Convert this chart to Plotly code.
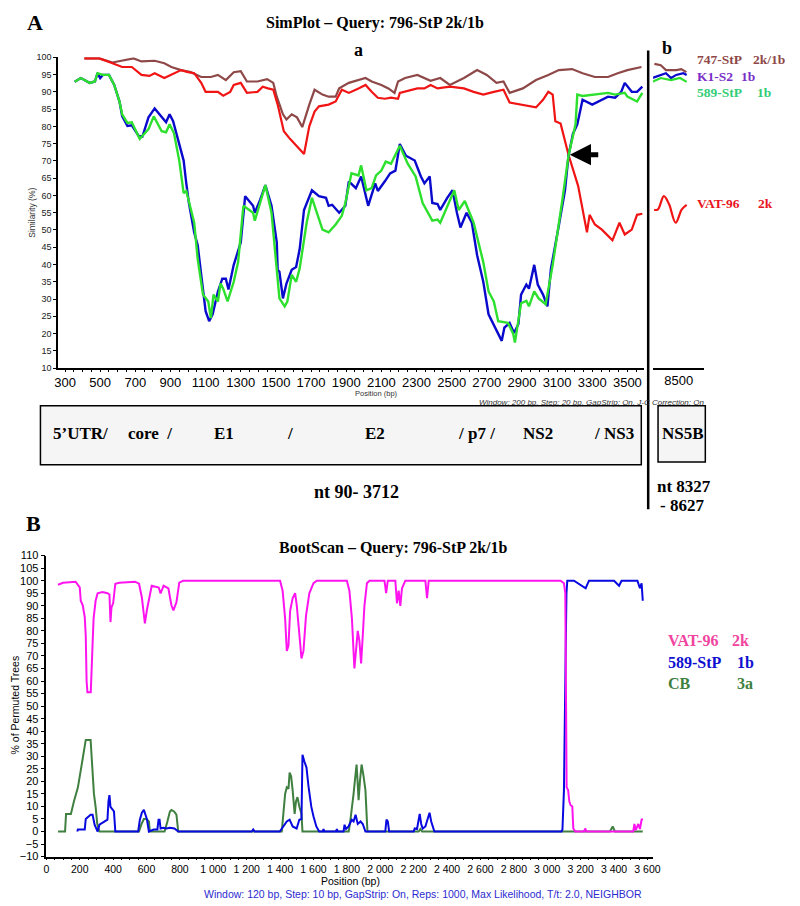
import plotly.graph_objects as go

# ---------------- Panel A (SimPlot) : region a, nt 90-3712 ----------------
pos_747_a = [410, 495, 570, 690, 735, 775, 810, 865, 905, 960,
             1015, 1075, 1130, 1170, 1215, 1260, 1300, 1335, 1395, 1450,
             1485, 1505, 1540, 1560, 1590, 1620, 1650, 1690, 1720, 1765,
             1800, 1840, 1860, 1915, 1970, 2010, 2045, 2100, 2140, 2175,
             2195, 2235, 2305, 2380, 2435, 2490, 2570, 2645, 2700, 2755,
             2795, 2830, 2905, 2980, 3050, 3110, 3185, 3245, 3315, 3390,
             3445, 3500, 3580]
sim_747_a = [99.7, 99.7, 98.5, 99.7, 98.8, 99.0, 99.0, 98.3, 97.2, 96.3,
             95.7, 94.3, 94.3, 94.9, 93.4, 95.7, 96.0, 93.0, 93.0, 93.7,
             92.6, 88.6, 83.5, 82.0, 83.5, 82.6, 79.8, 86.3, 90.6, 89.2,
             88.6, 88.6, 91.0, 92.6, 93.4, 94.0, 93.0, 92.0, 91.0, 89.7,
             93.0, 94.0, 94.9, 93.2, 94.0, 92.0, 94.0, 96.3, 94.9, 92.6,
             93.0, 89.7, 91.0, 93.4, 94.9, 96.3, 96.6, 95.4, 94.3, 94.3,
             95.4, 96.3, 97.2]

pos_vat_a = [410, 495, 570, 625, 680, 735, 780, 810, 865, 905,
             960, 1000, 1035, 1075, 1100, 1170, 1200, 1240, 1260, 1300,
             1335, 1395, 1425, 1455, 1485, 1510, 1530, 1545, 1580, 1635,
             1660, 1675, 1690, 1720, 1745, 1800, 1840, 1875, 1915, 1970,
             2010, 2045, 2080, 2120, 2155, 2195, 2205, 2305, 2345, 2380,
             2420, 2490, 2570, 2625, 2680, 2740, 2795, 2830, 2905, 2980,
             3020, 3050, 3075, 3090, 3120, 3135, 3165, 3220, 3260, 3270,
             3285, 3315, 3355, 3390, 3415, 3455, 3485, 3525, 3555, 3585]
sim_vat_a = [99.7, 99.7, 98.3, 97.2, 97.2, 94.9, 94.6, 95.4, 94.0, 94.9,
             96.3, 95.7, 95.4, 92.6, 90.0, 90.0, 88.9, 90.0, 92.0, 92.6,
             89.7, 90.0, 91.5, 91.0, 90.6, 86.3, 82.0, 78.6, 76.4, 73.5,
             72.0, 76.0, 80.0, 84.3, 85.8, 86.3, 87.2, 90.6, 89.7, 91.0,
             92.0, 90.0, 88.3, 88.0, 88.3, 88.0, 89.7, 91.0, 91.0, 92.0,
             91.0, 91.5, 91.0, 90.0, 89.2, 90.0, 90.6, 86.9, 86.3, 85.5,
             87.7, 90.0, 89.2, 81.5, 80.8, 77.8, 71.8, 62.7, 52.1, 49.3,
             54.4, 51.6, 50.1, 48.4, 47.0, 52.1, 48.7, 50.1, 54.4, 54.7]

pos_k1_a = [355, 390, 440, 470, 485, 500, 515, 550, 580, 610,
            625, 655, 680, 720, 740, 775, 810, 860, 875, 895,
            915, 945, 975, 990, 1005, 1035, 1055, 1075, 1100, 1120,
            1140, 1170, 1195, 1215, 1230, 1260, 1300, 1325, 1370, 1380,
            1410, 1440, 1475, 1505, 1510, 1520, 1540, 1560, 1590, 1615,
            1635, 1660, 1705, 1745, 1785, 1800, 1820, 1860, 1895, 1915,
            1955, 1985, 2015, 2025, 2065, 2080, 2120, 2150, 2180, 2205,
            2240, 2290, 2325, 2345, 2375, 2390, 2420, 2435, 2475, 2505,
            2530, 2550, 2585, 2615, 2645, 2680, 2710, 2755, 2785, 2800,
            2830, 2855, 2880, 2895, 2925, 2940, 2970, 2990, 3020, 3045,
            3065, 3110, 3145, 3165, 3190, 3215, 3245, 3300, 3330, 3390,
            3430, 3465, 3485, 3525, 3555, 3585]
sim_k1_a = [92.9, 94.0, 92.6, 93.0, 95.4, 94.0, 94.9, 94.9, 92.0, 87.2,
            83.0, 80.1, 80.3, 77.2, 77.0, 82.6, 85.2, 82.0, 81.2, 83.5,
            81.5, 75.8, 70.1, 63.5, 57.8, 49.3, 45.6, 37.0, 26.5, 23.6,
            25.6, 32.2, 35.9, 35.9, 32.8, 39.9, 46.4, 59.8, 57.0, 55.0,
            58.7, 63.0, 57.0, 46.4, 38.5, 37.9, 30.2, 34.5, 38.5, 39.3,
            44.4, 55.8, 61.5, 59.8, 59.3, 57.0, 57.3, 55.0, 57.0, 64.1,
            62.1, 65.5, 58.7, 57.0, 63.5, 61.3, 64.1, 66.4, 67.2, 74.9,
            71.5, 70.1, 65.5, 63.5, 65.5, 57.8, 57.5, 55.8, 59.3, 61.5,
            55.0, 50.7, 55.0, 52.1, 42.7, 35.0, 25.6, 20.8, 17.9, 21.7,
            23.1, 20.2, 22.8, 31.3, 34.2, 33.0, 39.9, 34.2, 31.3, 27.9,
            38.8, 51.3, 61.5, 71.5, 77.8, 80.6, 87.7, 86.3, 87.0, 88.6,
            88.3, 90.0, 92.6, 90.0, 90.0, 91.5]

pos_589_a = [355, 390, 440, 470, 485, 515, 550, 580, 610, 625,
             655, 680, 725, 775, 805, 850, 875, 895, 920, 950,
             975, 990, 1035, 1055, 1085, 1115, 1130, 1145, 1170, 1185,
             1200, 1225, 1260, 1285, 1315, 1370, 1380, 1410, 1440, 1475,
             1505, 1520, 1550, 1565, 1590, 1615, 1635, 1675, 1705, 1765,
             1800, 1840, 1875, 1895, 1930, 1970, 1985, 2015, 2045, 2070,
             2100, 2125, 2155, 2205, 2250, 2295, 2335, 2350, 2390, 2420,
             2435, 2515, 2540, 2575, 2625, 2680, 2710, 2740, 2765, 2820,
             2850, 2860, 2895, 2925, 2940, 2970, 2995, 3035, 3075, 3130,
             3165, 3205, 3215, 3245, 3315, 3390, 3430, 3485, 3500, 3555,
             3585]
sim_589_a = [92.9, 94.0, 92.6, 93.0, 95.4, 94.9, 94.9, 92.0, 87.2, 83.5,
             81.0, 81.2, 76.4, 79.2, 82.9, 78.6, 78.3, 80.6, 78.0, 70.1,
             60.7, 61.3, 52.1, 41.6, 31.3, 29.3, 24.5, 31.3, 29.3, 34.5,
             33.0, 29.3, 35.0, 40.7, 57.0, 55.0, 52.7, 57.8, 63.0, 55.0,
             37.0, 30.2, 27.9, 29.3, 37.0, 35.0, 38.8, 52.1, 59.3, 50.1,
             49.3, 51.6, 54.1, 57.8, 66.4, 65.8, 68.7, 61.5, 62.1, 65.8,
             67.2, 69.8, 69.2, 74.4, 69.2, 65.5, 57.8, 56.4, 52.7, 53.0,
             52.1, 61.5, 55.8, 58.4, 52.1, 40.7, 32.2, 29.3, 23.6, 23.1,
             20.0, 17.4, 28.8, 29.5, 27.9, 32.2, 30.2, 28.5, 39.9, 58.7,
             71.5, 80.6, 89.2, 88.8, 89.2, 89.7, 89.2, 89.7, 88.6, 87.2,
             89.7]

# ---------------- Panel A : region b, NS5B ----------------
pos_747_b = [8405, 8430, 8450, 8490, 8510, 8530]
sim_747_b = [98.1, 97.7, 96.3, 96.3, 96.6, 95.7]
pos_k1_b = [8396, 8430, 8450, 8470, 8490, 8518, 8531]
sim_k1_b = [94.0, 94.9, 95.4, 94.0, 94.9, 95.4, 94.9]
pos_589_b = [8396, 8430, 8470, 8505, 8531]
sim_589_b = [92.9, 94.0, 93.4, 94.0, 92.9]
pos_vat_b = [8404, 8419, 8442, 8462, 8488, 8512, 8531]
sim_vat_b = [55.8, 56.0, 59.8, 57.5, 52.1, 56.0, 57.3]

simplot_ticks = [300, 500, 700, 900, 1100, 1300, 1500, 1700, 1900, 2100,
                 2300, 2500, 2700, 2900, 3100, 3300, 3500]

# ---------------- Panel B (BootScan) ----------------
pos_vat_B = [70, 100, 175, 200, 206, 218, 230, 236, 241, 246, 266, 271, 277, 283,
             295, 307, 336, 366, 378, 384, 390, 400, 413, 437, 531, 555, 572, 590,
             602, 631, 673, 684, 702, 731, 749, 761, 779, 796, 820,
             1400, 1415, 1430, 1440, 1450, 1460, 1475, 1490, 1500, 1515, 1528, 1540,
             1555, 1575, 1600, 1620,
             1800, 1815, 1830, 1845, 1855, 1865, 1875, 1885, 1895, 1905, 1920, 1935,
             2025, 2035, 2045, 2090, 2100, 2110, 2120, 2130, 2150, 2270, 2280, 2290,
             3080, 3100, 3108, 3112, 3116, 3125, 3132, 3139, 3150, 3156, 3168,
             3220, 3227, 3235, 3515, 3522, 3530, 3545, 3555, 3565, 3572]
boot_vat_B = [98.4, 99.2, 99.6, 97.3, 92.0, 90.2, 85.5, 78.0, 60.0, 55.5, 55.5, 62.0, 75.0, 85.0,
              92.0, 95.0, 95.5, 95.0, 94.5, 83.5, 89.4, 91.0, 98.8, 99.2, 99.6, 98.8, 93.3, 83.0,
              88.2, 98.0, 97.3, 94.9, 98.0, 96.9, 90.2, 88.2, 91.4, 99.2, 100.0,
              100.0, 96.0, 85.0, 72.0, 74.0, 88.0, 93.0, 95.0, 90.0, 80.0, 69.0, 72.0,
              86.0, 95.0, 99.0, 100.0,
              100.0, 96.0, 85.0, 65.0, 72.0, 80.0, 76.0, 67.0, 78.0, 90.0, 99.0, 100.0,
              100.0, 95.0, 100.0, 100.0, 91.0, 96.0, 90.0, 97.0, 100.0, 100.0, 93.0, 100.0,
              100.0, 99.0, 95.0, 60.0, 17.6, 16.5, 12.0, 10.6, 10.0, 1.2, 0.0,
              0.0, 1.2, 0.0, 0.0, 3.0, 0.5, 3.0, 1.0, 4.7, 5.0]

pos_589_B = [185, 189, 230, 236, 265, 277, 289, 307, 318, 348, 366, 372, 378, 384, 395,
             405, 413, 550, 560, 572, 584, 602, 614, 643, 665, 672, 678, 684, 700, 720,
             740, 767, 790, 1230, 1239, 1248, 1398, 1420, 1440, 1457, 1475, 1499, 1515,
             1528, 1534, 1545, 1558, 1570, 1587, 1600, 1617, 1634, 1655, 1660, 1665,
             1735, 1740, 1745, 1780, 1786, 1795, 1810, 1829, 1840, 1852, 1865, 1882,
             1895, 1911, 2030, 2037, 2045, 2053, 2200, 2206, 2220, 2236, 2245, 2254,
             2270, 2283, 2295, 2305, 2324, 3085, 3091, 3100, 3106, 3110, 3115, 3120,
             3160, 3230, 3250, 3400, 3430, 3445, 3540, 3555, 3565, 3572]
boot_589_B = [0.0, 0.8, 0.8, 5.0, 6.7, 6.7, 2.7, 0.0, 2.7, 4.0, 4.7, 12.0, 14.5, 9.8, 8.6,
              8.0, 0.0, 0.0, 4.7, 7.5, 8.6, 5.0, 0.0, 0.8, 0.8, 4.7, 4.7, 1.2, 1.5, 1.2,
              1.5, 1.2, 0.0, 0.0, 0.8, 0.0, 0.0, 2.0, 4.0, 4.7, 2.0, 1.2, 4.7,
              5.0, 30.6, 28.0, 25.5, 18.0, 9.8, 6.0, 2.0, 0.0, 0.0, 1.0, 0.0,
              0.0, 1.0, 0.0, 0.0, 2.7, 1.0, 2.0, 4.7, 4.0, 6.7, 3.0, 4.0,
              3.0, 0.0, 0.0, 4.7, 4.0, 0.0, 0.0, 1.2, 1.0, 7.0, 3.0, 1.2,
              2.0, 4.7, 7.5, 4.0, 0.0, 0.0, 0.8, 16.5, 40.0, 70.0, 95.0, 100.0,
              100.0, 97.0, 100.0, 100.0, 98.0, 100.0, 100.0, 97.0, 99.0, 92.0]

pos_cb_B = [70, 112, 118, 147, 165, 189, 215, 236, 265, 275, 285, 295, 305, 318,
            555, 570, 584, 600, 614, 620, 708, 725, 740, 749, 765, 779, 790,
            1410, 1420, 1430, 1440, 1450, 1457, 1466, 1475, 1481, 1487, 1495, 1504,
            1515, 1528, 1534, 1811, 1820, 1829, 1840, 1852, 1858, 1864, 1870, 1878,
            1888, 1900, 1911, 1923, 2230, 2240, 2250, 3375, 3392, 3405, 3572]
boot_cb_B = [0.0, 0.0, 7.0, 7.0, 12.0, 17.6, 28.0, 36.5, 36.5, 25.0, 15.0, 9.8, 3.0, 0.0,
             0.0, 3.0, 5.0, 5.0, 4.0, 0.0, 0.0, 4.0, 8.0, 8.6, 8.0, 6.7, 0.0,
             0.0, 7.0, 15.0, 17.6, 17.0, 23.5, 22.0, 16.5, 10.0, 7.0, 12.0, 13.7,
             10.0, 7.0, 0.0, 0.0, 4.0, 8.6, 15.0, 23.0, 26.7, 20.0, 12.5, 20.0,
             26.7, 22.0, 16.5, 0.0, 0.0, 1.0, 0.0, 0.0, 2.0, 0.0, 0.0]

bootscan_tickvals = [0, 200, 400, 600, 800, 1000, 1200, 1400, 1600, 1800,
                     2000, 2200, 2400, 2600, 2800, 3000, 3200, 3400, 3600]
bootscan_ticktext = ["0", "200", "400", "600", "800", "1 000", "1 200", "1 400",
                     "1 600", "1 800", "2 000", "2 200", "2 400", "2 600", "2 800",
                     "3 000", "3 200", "3 400", "3 600"]

# genome region labels
region_labels = ["5\u2019UTR/", "core  /", "E1", "/", "E2", "/ p7 /", "NS2", "/ NS3"]
region_x = [78, 148, 223, 290, 377, 480, 542, 619]

# ---------------- styling ----------------
W, H = 800, 906
def px(x):
    return x / W
def py(y):
    return 1 - y / H

SANS = "Liberation Sans, Arial, sans-serif"
SERIF = "Liberation Serif, Times New Roman, serif"
BROWN = "#8E4848"
RED = "#F01414"
BLUE = "#0A0ACD"
GREEN = "#2EE02E"
PINK = "#FF14F0"
BBLUE = "#0808E0"
DGREEN = "#3F7F3F"

fig = go.Figure()

def line(x, y, color, w, xa, ya, shape="linear"):
    fig.add_trace(go.Scatter(x=x, y=y, mode="lines",
                             line=dict(color=color, width=w, shape=shape),
                             xaxis=xa, yaxis=ya, hoverinfo="skip"))

line(pos_747_a, sim_747_a, BROWN, 2.2, "x", "y")
line(pos_vat_a, sim_vat_a, RED, 2.2, "x", "y")
line(pos_k1_a, sim_k1_a, BLUE, 2.4, "x", "y")
line(pos_589_a, sim_589_a, GREEN, 2.4, "x", "y")

line(pos_747_b, sim_747_b, BROWN, 2.2, "x2", "y2")
line(pos_k1_b, sim_k1_b, BLUE, 2.2, "x2", "y2")
line(pos_589_b, sim_589_b, GREEN, 2.2, "x2", "y2")
line(pos_vat_b, sim_vat_b, RED, 2.2, "x2", "y2", "spline")

line(pos_cb_B, boot_cb_B, DGREEN, 2, "x3", "y3")
line(pos_589_B, boot_589_B, BBLUE, 2, "x3", "y3")
line(pos_vat_B, boot_vat_B, PINK, 2, "x3", "y3")

axis_common = dict(showline=True, linecolor="black", linewidth=1.5, ticks="outside",
                   tickcolor="black", showgrid=False, zeroline=False)

fig.update_layout(
    width=W, height=H, margin=dict(l=0, r=0, t=0, b=0),
    plot_bgcolor="white", paper_bgcolor="white", showlegend=False,
    xaxis=dict(domain=[px(55), px(650)], range=[261, 3596], anchor="y",
               tickmode="array", tickvals=simplot_ticks, ticklen=2,
               tickfont=dict(family=SANS, size=13, color="black"),
               minor=dict(ticks="outside", dtick=50, tick0=0, ticklen=2, tickcolor="black"),
               **axis_common),
    yaxis=dict(domain=[py(367), py(52)], range=[10, 100], anchor="x", dtick=5,
               ticklen=3, tickfont=dict(family=SANS, size=9, color="#222"),
               **axis_common),
    xaxis2=dict(domain=[px(659), px(711)], range=[8400, 8600], anchor="y2",
                tickmode="array", tickvals=[8500], ticklen=0,
                tickfont=dict(family=SANS, size=13, color="black"),
                **{k: v for k, v in axis_common.items() if k != "ticks"}),
    yaxis2=dict(domain=[py(367), py(52)], range=[10, 100], anchor="x2", visible=False),
    xaxis3=dict(domain=[px(43), px(659)], range=[0, 3634], anchor="y3",
                tickmode="array", tickvals=bootscan_tickvals, ticktext=bootscan_ticktext,
                ticklen=2, tickfont=dict(family=SANS, size=10.5, color="black"),
                minor=dict(ticks="outside", dtick=50, tick0=0, ticklen=2, tickcolor="black"),
                **axis_common),
    yaxis3=dict(domain=[py(862), py(557)], range=[-10, 110], anchor="x3", dtick=5,
                ticklen=4, tickfont=dict(family=SANS, size=11, color="black"),
                **axis_common),
)

anns = []
def txt(x, y, s, size, color="black", family=SERIF, bold=True, xanchor="center",
        angle=0, italic=False):
    t = s
    if bold:
        t = "<b>" + t + "</b>"
    if italic:
        t = "<i>" + t + "</i>"
    anns.append(dict(x=px(x), y=py(y), xref="paper", yref="paper", text=t,
                     showarrow=False, xanchor=xanchor, yanchor="middle",
                     textangle=angle, font=dict(family=family, size=size, color=color)))

txt(31, 17, "A", 22)
txt(377, 17, "SimPlot \u2013 Query: 796-StP 2k/1b", 16)
txt(360, 45, "a", 18)
txt(673, 43, "b", 18)
txt(702, 54, "747-StP", 13.5, BROWN, xanchor="left")
txt(758, 54, "2k/1b", 13.5, BROWN, xanchor="left")
txt(702, 71, "K1-S2", 13.5, "#7A2EC8", xanchor="left")
txt(746, 71, "1b", 13.5, "#7A2EC8", xanchor="left")
txt(702, 88, "589-StP", 13.5, "#33CC77", xanchor="left")
txt(762, 88, "1b", 13.5, "#33CC77", xanchor="left")
txt(702, 200, "VAT-96", 13.5, "#E8141E", xanchor="left")
txt(763, 200, "2k", 13.5, "#E8141E", xanchor="left")
txt(29, 210, "Similarity (%)", 8.5, "#333", SANS, bold=False, angle=-90)
txt(378, 393, "Position (bp)", 7.5, "#333", SANS, bold=False)
txt(596, 402, "Window: 200 bp, Step: 20 bp, GapStrip: On, J-C Correction: On", 8,
    "#333", SANS, bold=False, italic=True)
for lab, xc in zip(region_labels, region_x):
    txt(xc, 433, lab, 17)
txt(689, 433, "NS5B", 17)
txt(358, 493, "nt 90- 3712", 18)
txt(661, 487, "nt 8327", 17, xanchor="left")
txt(664, 506, "- 8627", 17, xanchor="left")

txt(30, 524, "B", 22)
txt(395, 549, "BootScan \u2013 Query: 796-StP 2k/1b", 16)
txt(672, 643, "VAT-96", 16, "#F0449F", xanchor="left")
txt(737, 643, "2k", 16, "#F0449F", xanchor="left")
txt(672, 665, "589-StP", 16, "#1010D0", xanchor="left")
txt(742, 665, "1b", 16, "#1010D0", xanchor="left")
txt(672, 687, "CB", 16, DGREEN, xanchor="left")
txt(742, 687, "3a", 16, DGREEN, xanchor="left")
txt(11, 708, "% of Permuted Trees", 10.5, "black", SANS, bold=False, angle=-90)
txt(352, 887, "Position (bp)", 10.5, "black", SANS, bold=False)
txt(425, 900, "Window: 120 bp, Step: 10 bp, GapStrip: On, Reps: 1000, Max Likelihood, T/t: 2.0, NEIGHBOR",
    10.5, "#2B2BD0", SANS, bold=False)

# recombination arrow
anns.append(dict(x=3172, y=71.8, xref="x", yref="y", ax=30, ay=0, text="",
                 showarrow=True, arrowhead=2, arrowsize=0.85, arrowwidth=5,
                 arrowcolor="black"))

fig.update_layout(annotations=anns)

shapes = [
    dict(type="line", xref="paper", yref="paper", x0=px(654), x1=px(654),
         y0=py(45), y1=py(510), line=dict(color="black", width=2.5)),
    dict(type="rect", xref="paper", yref="paper", x0=px(37), x1=px(647),
         y0=py(465), y1=py(405), line=dict(color="black", width=1.5),
         fillcolor="#f5f5f5", layer="below"),
    dict(type="rect", xref="paper", yref="paper", x0=px(664), x1=px(712),
         y0=py(462), y1=py(405), line=dict(color="black", width=1.5),
         fillcolor="#f5f5f5", layer="below"),
]
fig.update_layout(shapes=shapes)

fig.write_html("out.html", config={"displayModeBar": False},
               post_script="document.body.style.margin='0';document.body.style.overflow='hidden';")
